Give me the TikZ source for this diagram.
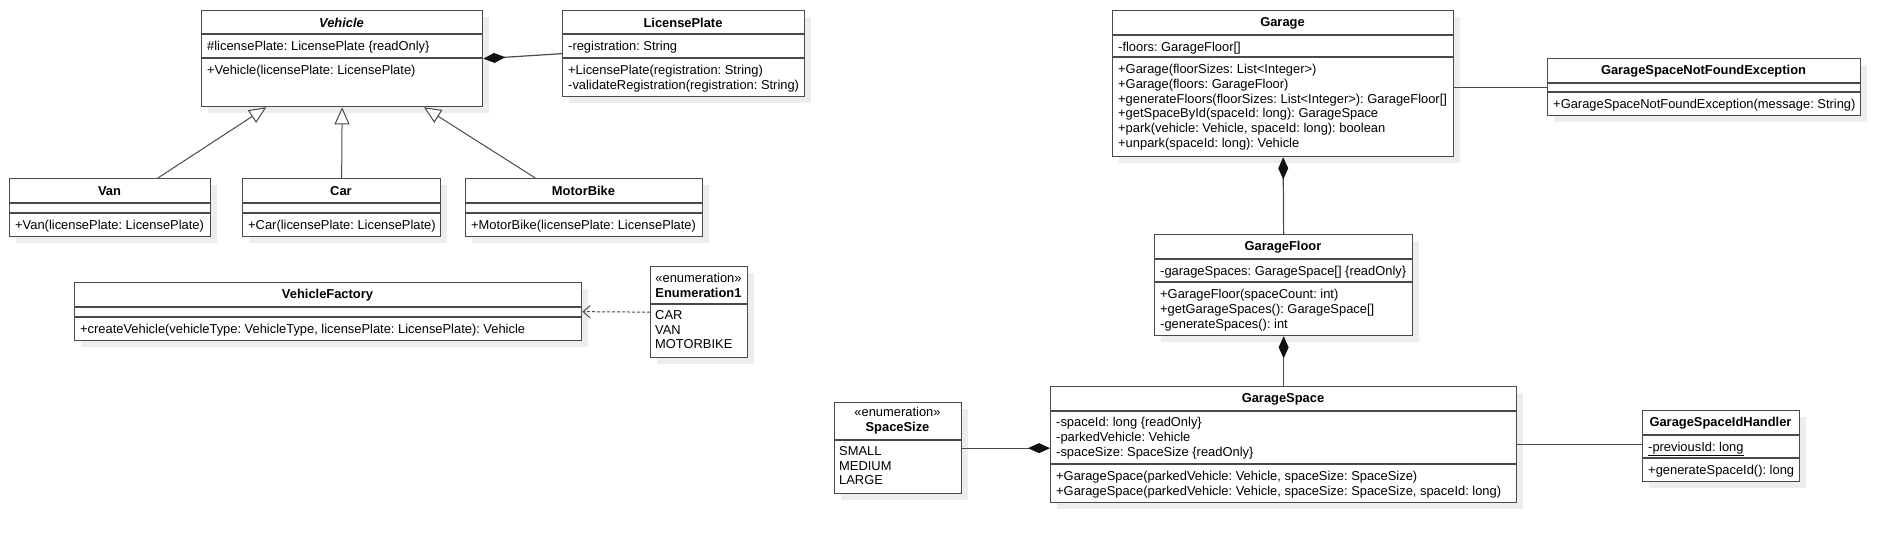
\documentclass[tikz,border=0pt]{standalone}
\usepackage{fontspec}
\setmainfont{Liberation Sans}
\usepackage{tikz}
\usetikzlibrary{arrows.meta,positioning,calc,shadows}
\frenchspacing
\definecolor{cLine}{HTML}{4A4A4A}
\definecolor{cShade}{HTML}{EDEDED}
\definecolor{cTip}{HTML}{111111}
\tikzset{
  cls/.style={draw=cLine, line width=1.3pt, fill=white, anchor=north west, inner sep=0pt,
              drop shadow={shadow xshift=6pt, shadow yshift=-6pt, fill=cShade, opacity=1}},
  ttl/.style={font=\fontsize{12.9}{14.8}\selectfont\bfseries, inner sep=0pt},
  mem/.style={font=\fontsize{12.9}{14.8}\selectfont, anchor=north west, align=left, inner sep=0pt},
  divider/.style={draw=cLine, line width=1.3pt},
  gen/.style={-{Triangle[open, fill=white, length=17pt, width=15pt]}, line width=1pt, draw=cLine},
  comp/.style={{Diamond[length=22pt, width=10pt, color=cTip]}-, line width=1.2pt, draw=cLine},
  assoc/.style={line width=1.2pt, draw=cLine},
  dep/.style={-{Straight Barb[length=7pt, width=12pt]}, dash pattern=on 3pt off 2pt, line width=1pt, draw=cLine},
}

\begin{document}
\begin{tikzpicture}[x=1pt, y=-1pt]
\useasboundingbox[fill=white] (0,0) rectangle (1901,542);
% vehicle side
\node[cls, minimum width=281pt, minimum height=96pt] (vehicle) at (201,10) {};
\draw[divider] ($(vehicle.north west)+(0,24)$) -- ($(vehicle.north east)+(0,24)$);
\draw[divider] ($(vehicle.north west)+(0,48)$) -- ($(vehicle.north east)+(0,48)$);
\node[ttl, font=\fontsize{12.9}{14.8}\selectfont\bfseries\itshape] (vehicle-t) at (341.5,22.5) {Vehicle};
\node[mem] (vehicle-a) at (207,41) {\#licensePlate: LicensePlate \{readOnly\}};
\node[mem] (vehicle-m) at (207,65) {+Vehicle(licensePlate: LicensePlate)};

\node[cls, minimum width=242pt, minimum height=86pt] (lplate) at (562,10) {};
\draw[divider] ($(lplate.north west)+(0,24)$) -- ($(lplate.north east)+(0,24)$);
\draw[divider] ($(lplate.north west)+(0,48)$) -- ($(lplate.north east)+(0,48)$);
\node[ttl] (lplate-t) at (683,22.5) {LicensePlate};
\node[mem] (lplate-a) at (568,41) {-registration: String};
\node[mem] (lplate-m) at (568,65) {+LicensePlate(registration: String)\\-validateRegistration(registration: String)};

\node[cls, minimum width=201pt, minimum height=58pt] (van) at (9,178) {};
\draw[divider] ($(van.north west)+(0,25)$) -- ($(van.north east)+(0,25)$);
\draw[divider] ($(van.north west)+(0,35)$) -- ($(van.north east)+(0,35)$);
\node[ttl] (van-t) at (109.5,191) {Van};
\node[mem] (van-m) at (15,220) {+Van(licensePlate: LicensePlate)};

\node[cls, minimum width=198pt, minimum height=58pt] (car) at (242,178) {};
\draw[divider] ($(car.north west)+(0,25)$) -- ($(car.north east)+(0,25)$);
\draw[divider] ($(car.north west)+(0,35)$) -- ($(car.north east)+(0,35)$);
\node[ttl] (car-t) at (341,191) {Car};
\node[mem] (car-m) at (248,220) {+Car(licensePlate: LicensePlate)};

\node[cls, minimum width=237pt, minimum height=58pt] (motorbike) at (465,178) {};
\draw[divider] ($(motorbike.north west)+(0,25)$) -- ($(motorbike.north east)+(0,25)$);
\draw[divider] ($(motorbike.north west)+(0,35)$) -- ($(motorbike.north east)+(0,35)$);
\node[ttl] (motorbike-t) at (583.5,191) {MotorBike};
\node[mem] (motorbike-m) at (471,220) {+MotorBike(licensePlate: LicensePlate)};

\node[cls, minimum width=507pt, minimum height=58pt] (vfactory) at (74,282) {};
\draw[divider] ($(vfactory.north west)+(0,25)$) -- ($(vfactory.north east)+(0,25)$);
\draw[divider] ($(vfactory.north west)+(0,35)$) -- ($(vfactory.north east)+(0,35)$);
\node[ttl] (vfactory-t) at (327.5,295) {VehicleFactory};
\node[mem] (vfactory-m) at (80,324) {+createVehicle(vehicleType: VehicleType, licensePlate: LicensePlate): Vehicle};

\node[cls, minimum width=97pt, minimum height=91pt] (enum1) at (650,266) {};
\draw[divider] ($(enum1.north west)+(0,38)$) -- ($(enum1.north east)+(0,38)$);
\node[mem, anchor=center, align=center] (enum1-t) at (698.5,285) {«enumeration»\\\textbf{Enumeration1}};
\node[mem] (enum1-v) at (655,310) {CAR\\VAN\\MOTORBIKE};

% garage side
\node[cls, minimum width=341pt, minimum height=146pt] (garage) at (1112,10) {};
\draw[divider] ($(garage.north west)+(0,25)$) -- ($(garage.north east)+(0,25)$);
\draw[divider] ($(garage.north west)+(0,47)$) -- ($(garage.north east)+(0,47)$);
\node[ttl] (garage-t) at (1282.5,23) {Garage};
\node[mem] (garage-a) at (1118,42) {-floors: GarageFloor[]};
\node[mem] (garage-m) at (1118,64) {+Garage(floorSizes: List<Integer>)\\+Garage(floors: GarageFloor)\\+generateFloors(floorSizes: List<Integer>): GarageFloor[]\\+getSpaceById(spaceId: long): GarageSpace\\+park(vehicle: Vehicle, spaceId: long): boolean\\+unpark(spaceId: long): Vehicle};

\node[cls, minimum width=313pt, minimum height=57pt] (exc) at (1547,58) {};
\draw[divider] ($(exc.north west)+(0,25)$) -- ($(exc.north east)+(0,25)$);
\draw[divider] ($(exc.north west)+(0,34)$) -- ($(exc.north east)+(0,34)$);
\node[ttl] (exc-t) at (1703.5,71) {GarageSpaceNotFoundException};
\node[mem] (exc-m) at (1553,99) {+GarageSpaceNotFoundException(message: String)};

\node[cls, minimum width=258pt, minimum height=101pt] (gfloor) at (1154,234) {};
\draw[divider] ($(gfloor.north west)+(0,25)$) -- ($(gfloor.north east)+(0,25)$);
\draw[divider] ($(gfloor.north west)+(0,48)$) -- ($(gfloor.north east)+(0,48)$);
\node[ttl] (gfloor-t) at (1283,247) {GarageFloor};
\node[mem] (gfloor-a) at (1160,266) {-garageSpaces: GarageSpace[] \{readOnly\}};
\node[mem] (gfloor-m) at (1160,289) {+GarageFloor(spaceCount: int)\\+getGarageSpaces(): GarageSpace[]\\-generateSpaces(): int};

\node[cls, minimum width=466pt, minimum height=116pt] (gspace) at (1050,386) {};
\draw[divider] ($(gspace.north west)+(0,25)$) -- ($(gspace.north east)+(0,25)$);
\draw[divider] ($(gspace.north west)+(0,78)$) -- ($(gspace.north east)+(0,78)$);
\node[ttl] (gspace-t) at (1283,399) {GarageSpace};
\node[mem] (gspace-a) at (1056,417) {-spaceId: long \{readOnly\}\\-parkedVehicle: Vehicle\\-spaceSize: SpaceSize \{readOnly\}};
\node[mem] (gspace-m) at (1056,471) {+GarageSpace(parkedVehicle: Vehicle, spaceSize: SpaceSize)\\+GarageSpace(parkedVehicle: Vehicle, spaceSize: SpaceSize, spaceId: long)};

\node[cls, minimum width=127pt, minimum height=91pt] (spacesize) at (834,402) {};
\draw[divider] ($(spacesize.north west)+(0,38)$) -- ($(spacesize.north east)+(0,38)$);
\node[mem, anchor=center, align=center] (spacesize-t) at (897.5,421) {«enumeration»\\\textbf{SpaceSize}};
\node[mem] (spacesize-v) at (839,446) {SMALL\\MEDIUM\\LARGE};

\node[cls, minimum width=157pt, minimum height=71pt] (handler) at (1642,410) {};
\draw[divider] ($(handler.north west)+(0,25)$) -- ($(handler.north east)+(0,25)$);
\draw[divider] ($(handler.north west)+(0,48)$) -- ($(handler.north east)+(0,48)$);
\node[ttl] (handler-t) at (1720.5,423) {GarageSpaceIdHandler};
\node[mem] (handler-a) at (1648,442) {\underline{-previousId: long}};
\node[mem] (handler-m) at (1648,465) {+generateSpaceId(): long};

% relations
\draw[gen] ($(van.north west)!0.736!(van.north east)$) -- ($(vehicle.south west)!0.231!(vehicle.south east)$);
\draw[gen] (car.north) -- (vehicle.south);
\draw[gen] ($(motorbike.north west)!0.295!(motorbike.north east)$) -- ($(vehicle.south west)!0.79!(vehicle.south east)$);
\draw[comp] (vehicle.east) -- (lplate.west);
\draw[dep] (enum1.west) -- (vfactory.east);
\draw[comp] (garage.south) -- (gfloor.north);
\draw[comp] (gfloor.south) -- (gspace.north);
\draw[comp] (spacesize.east -| gspace.west) -- (spacesize.east);
\draw[assoc] (garage.east |- exc.west) -- (exc.west);
\draw[assoc] (gspace.east) -- (gspace.east -| handler.west);
\end{tikzpicture}
\end{document}
